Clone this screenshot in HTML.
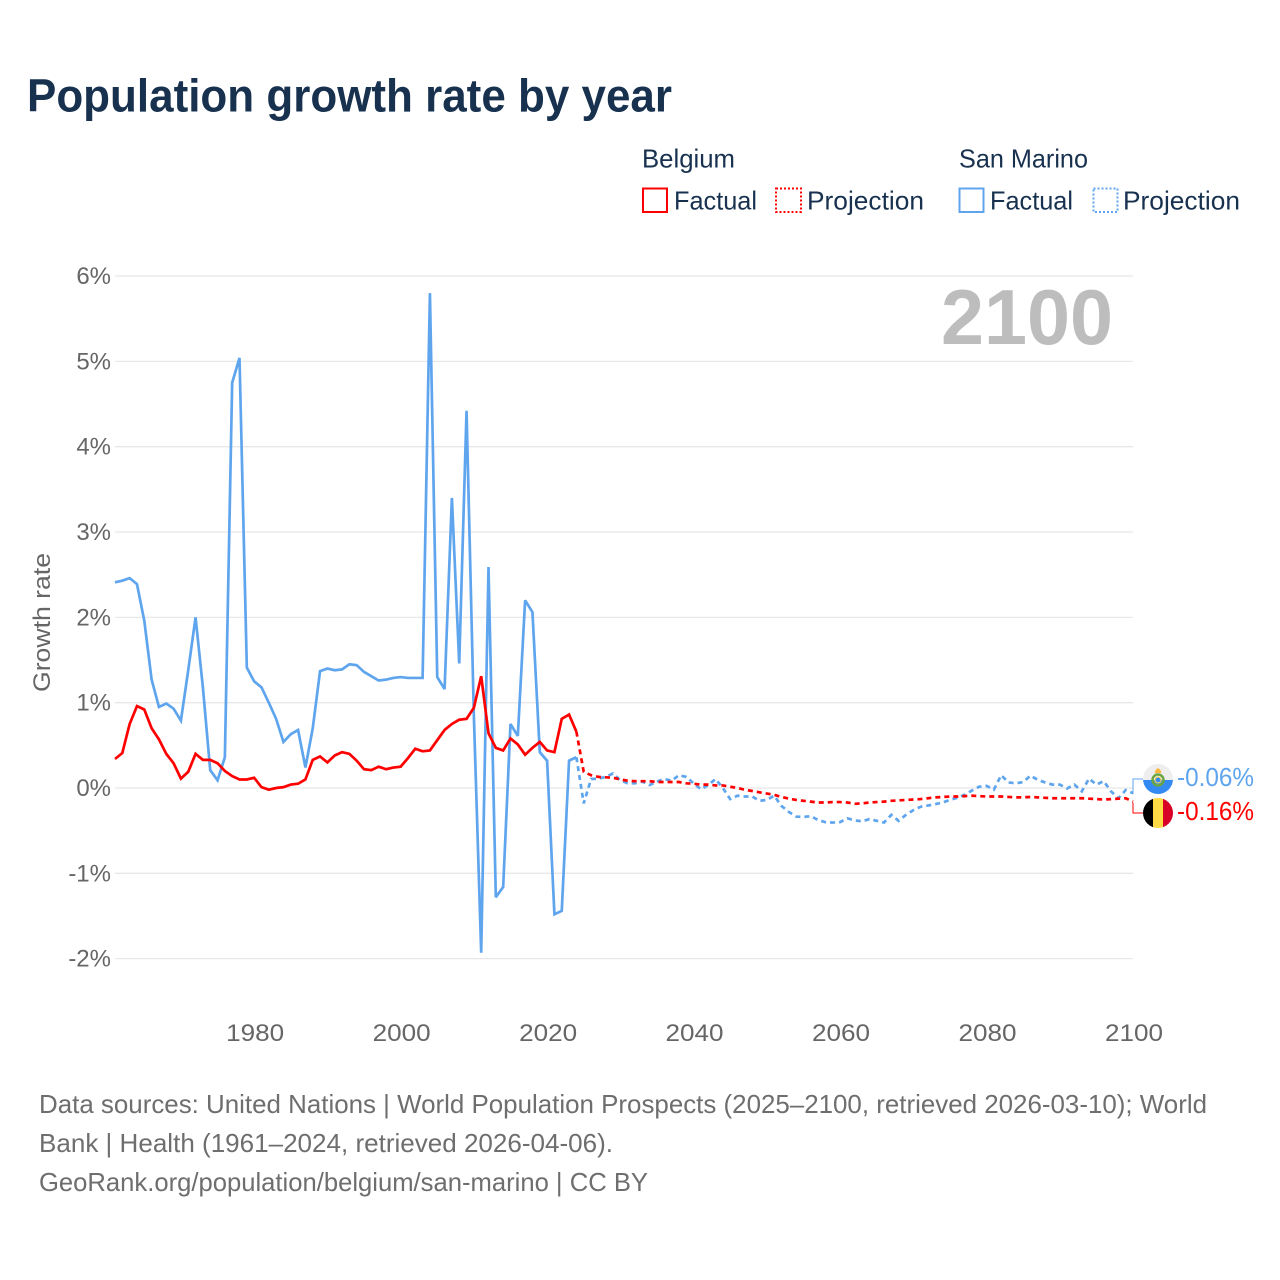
<!DOCTYPE html>
<html lang="en">
<head>
<meta charset="utf-8">
<title>Population growth rate by year</title>
<style>
html,body{margin:0;padding:0;background:#fff;}
svg{display:block;font-family:"Liberation Sans",sans-serif;}
</style>
</head>
<body>
<svg id="chart" xmlns="http://www.w3.org/2000/svg" width="1280" height="1280" viewBox="0 0 1280 1280">
  <defs>
    <clipPath id="flag-clip-sm"><circle cx="1158" cy="779" r="15"/></clipPath>
    <clipPath id="flag-clip-be"><circle cx="1158" cy="813" r="15"/></clipPath>
  </defs>
  <rect width="1280" height="1280" fill="#fff"/>
  <text x="27" y="111.5" font-size="46" font-weight="700" fill="#17314f" textLength="645" lengthAdjust="spacingAndGlyphs">Population growth rate by year</text>

  <g font-size="26" fill="#17314f">
    <text x="642" y="167.5" textLength="93" lengthAdjust="spacingAndGlyphs">Belgium</text>
    <text x="959" y="167.5" textLength="129" lengthAdjust="spacingAndGlyphs">San Marino</text>
    <rect x="643" y="188.5" width="24" height="23.5" fill="none" stroke="#ff0000" stroke-width="2"/>
    <text x="674" y="209.5" textLength="83" lengthAdjust="spacingAndGlyphs">Factual</text>
    <rect x="776" y="188.5" width="25" height="23.5" fill="none" stroke="#ff0000" stroke-width="2" stroke-dasharray="2 2"/>
    <text x="807" y="209.5" textLength="117" lengthAdjust="spacingAndGlyphs">Projection</text>
    <rect x="959.500" y="188.5" width="24" height="23.5" fill="none" stroke="#5fa5ee" stroke-width="2"/>
    <text x="990" y="209.5" textLength="83" lengthAdjust="spacingAndGlyphs">Factual</text>
    <rect x="1093.500" y="188.5" width="24" height="23.5" fill="none" stroke="#5fa5ee" stroke-width="2" stroke-dasharray="2 2"/>
    <text x="1123" y="209.5" textLength="117" lengthAdjust="spacingAndGlyphs">Projection</text>
  </g>

  <g id="grid"></g>
  <g id="yticks" font-size="24" fill="#666" text-anchor="end"></g>
  <g id="xticks" font-size="24" fill="#666" text-anchor="middle"></g>
  <text transform="translate(50,622.5) rotate(-90)" font-size="24" fill="#666" text-anchor="middle" textLength="139" lengthAdjust="spacingAndGlyphs">Growth rate</text>
  <text x="941" y="344" font-size="78" font-weight="700" fill="#bdbdbd" textLength="172" lengthAdjust="spacingAndGlyphs">2100</text>

  <g id="series"></g>
  <g id="endlabels"></g>

  <g clip-path="url(#flag-clip-sm)">
    <rect x="1143" y="764" width="30" height="16" fill="#eeeeee"/>
    <rect x="1143" y="780" width="30" height="14" fill="#338af3"/>
    <circle cx="1158" cy="780" r="5.500" fill="none" stroke="#6da544" stroke-width="2.500"/>
    <circle cx="1158" cy="780" r="3" fill="#338af3" stroke="#ffda44" stroke-width="1"/>
    <path d="M1154.500 773 L1161.500 773 L1160.500 770 L1158 768 L1155.500 770 Z" fill="#ffb63d"/>
  </g>
  <g clip-path="url(#flag-clip-be)">
    <rect x="1143" y="798" width="10" height="30" fill="#000"/>
    <rect x="1153" y="798" width="10" height="30" fill="#ffda44"/>
    <rect x="1163" y="798" width="10" height="30" fill="#d80027"/>
  </g>

  <g font-size="26" fill="#6e6e6e">
    <text x="39" y="1113" textLength="1168" lengthAdjust="spacingAndGlyphs">Data sources: United Nations | World Population Prospects (2025–2100, retrieved 2026-03-10); World</text>
    <text x="39" y="1152" textLength="574" lengthAdjust="spacingAndGlyphs">Bank | Health (1961–2024, retrieved 2026-04-06).</text>
    <text x="39" y="1191" textLength="609" lengthAdjust="spacingAndGlyphs">GeoRank.org/population/belgium/san-marino | CC BY</text>
  </g>
</svg>
<script>
const yTickValues = [6, 5, 4, 3, 2, 1, 0, -1, -2];
const yTickLabels = ["6%", "5%", "4%", "3%", "2%", "1%", "0%", "-1%", "-2%"];
const xTickYears = [1980, 2000, 2020, 2040, 2060, 2080, 2100];
const firstYear = 1961;
const lastFactualYear = 2024;

const belgiumFactual = [
  .34,.41,.75,.96,.92,.70,.57,.40,.29,.11,
  .19,.40,.33,.33,.29,.20,.14,.10,.10,.12,
  .01,-.02,0,.01,.04,.05,.10,.33,.37,.30,
  .38,.42,.40,.32,.22,.21,.25,.22,.24,.25,
  .35,.46,.43,.44,.56,.68,.75,.80,.81,.94,
  1.31,.64,.47,.44,.58,.51,.39,.47,.54,.44,
  .42,.81,.86,.66
];
const belgiumProjection = [
  .19,.15,.13,.125,.12,.10,.085,.08,.08,.08,
  .07,.07,.07,.07,.055,.05,.04,.04,.03,.03,
  .015,0,-.02,-.035,-.05,-.065,-.08,-.105,-.125,-.14,
  -.15,-.16,-.17,-.17,-.165,-.165,-.17,-.185,-.18,-.17,
  -.165,-.16,-.15,-.145,-.14,-.135,-.13,-.12,-.11,-.105,
  -.10,-.10,-.095,-.09,-.095,-.10,-.10,-.10,-.105,-.11,
  -.11,-.105,-.11,-.115,-.12,-.12,-.12,-.12,-.12,-.125,
  -.13,-.135,-.13,-.125,-.12,-.16
];
const sanMarinoFactual = [
  2.41,2.43,2.46,2.39,1.96,1.27,.95,.99,.93,.79,
  1.38,2.0,1.18,.21,.09,.36,4.75,5.04,1.41,1.25,
  1.18,1.0,.81,.54,.63,.68,.24,.70,1.37,1.40,
  1.38,1.39,1.45,1.44,1.36,1.31,1.26,1.27,1.29,1.30,
  1.29,1.29,1.29,5.80,1.30,1.16,3.40,1.46,4.42,.85,
  -1.93,2.59,-1.28,-1.16,.75,.61,2.20,2.06,.42,.32,
  -1.48,-1.44,.32,.36
];
const sanMarinoProjection = [
  -.18,.105,.11,.13,.17,.09,.055,.055,.075,.035,
  .075,.105,.085,.15,.13,.055,-.015,.035,.105,0,
  -.13,-.09,-.10,-.10,-.15,-.14,-.09,-.21,-.28,-.335,
  -.34,-.33,-.375,-.40,-.405,-.40,-.355,-.38,-.39,-.365,
  -.385,-.405,-.315,-.385,-.315,-.26,-.22,-.205,-.19,-.17,
  -.14,-.115,-.08,-.03,.015,.025,-.02,.15,.065,.055,
  .07,.145,.095,.065,.04,.04,-.005,.04,-.04,.11,
  .04,.08,-.04,-.12,-.025,-.06
];
const endValueLabels = ["-0.06%", "-0.16%"];

const NS = "http://www.w3.org/2000/svg";
function xScale(year) { return 115 + (year - 1961) * (1133 - 115) / (2100 - 1961); }
function yScale(value) { return 788 - value * 85.33; }
function makePoints(values, startYear) {
  return values.map(function (v, i) {
    return xScale(startYear + i).toFixed(2) + "," + yScale(v).toFixed(2);
  }).join(" ");
}

const gridGroup = document.getElementById("grid");
const yTickGroup = document.getElementById("yticks");
yTickValues.forEach(function (v, i) {
  const line = document.createElementNS(NS, "line");
  
  
  line.setAttribute("x1", 115);
  line.setAttribute("x2", 1133);
  line.setAttribute("y1", yScale(v));
  line.setAttribute("y2", yScale(v));
  line.setAttribute("stroke", "#e8e8e8");
  line.setAttribute("stroke-width", "1.3");
  gridGroup.appendChild(line);
  const label = document.createElementNS(NS, "text");
  
  
  label.setAttribute("x", 111);
  label.setAttribute("y", yScale(v) + 8);
  label.textContent = yTickLabels[i];
  yTickGroup.appendChild(label);
});

const xTickGroup = document.getElementById("xticks");
xTickYears.forEach(function (year) {
  const label = document.createElementNS(NS, "text");
  
  
  label.setAttribute("x", xScale(year) + 1);
  label.setAttribute("y", 1041);
  label.setAttribute("textLength", "58");
  label.setAttribute("lengthAdjust", "spacingAndGlyphs");
  label.textContent = String(year);
  xTickGroup.appendChild(label);
});

const seriesGroup = document.getElementById("series");
function drawLine(name, values, startYear, color, dash) {
  const line = document.createElementNS(NS, "polyline");
  
  
  line.setAttribute("points", makePoints(values, startYear));
  line.setAttribute("fill", "none");
  line.setAttribute("stroke", color);
  line.setAttribute("stroke-width", "2.7");
  line.setAttribute("stroke-linejoin", "miter");
  line.setAttribute("stroke-miterlimit", "3");
  if (dash) { line.setAttribute("stroke-dasharray", dash); }
  seriesGroup.appendChild(line);
}
const blue = "#5fa5ee";
const red = "#ff0000";
drawLine("san-marino-factual-line", sanMarinoFactual, firstYear, blue, null);
drawLine("belgium-factual-line", belgiumFactual, firstYear, red, null);
drawLine("san-marino-projection-line", [sanMarinoFactual[sanMarinoFactual.length - 1]].concat(sanMarinoProjection), lastFactualYear, blue, "5 4");
drawLine("belgium-projection-line", [belgiumFactual[belgiumFactual.length - 1]].concat(belgiumProjection), lastFactualYear, red, "5 4");

const endGroup = document.getElementById("endlabels");
function drawEnd(name, value, labelY, color, text) {
  const connector = document.createElementNS(NS, "polyline");
  
  
  const startY = yScale(value) + 1;
  connector.setAttribute("points", "1133," + startY + " 1133," + labelY + " 1143," + labelY);
  connector.setAttribute("fill", "none");
  connector.setAttribute("stroke", color);
  connector.setAttribute("stroke-width", "1");
  endGroup.appendChild(connector);
  const label = document.createElementNS(NS, "text");
  
  
  label.setAttribute("x", 1177);
  label.setAttribute("y", labelY + 7);
  label.setAttribute("font-size", "25.5");
  label.setAttribute("fill", color);
  label.setAttribute("textLength", "77");
  label.setAttribute("lengthAdjust", "spacingAndGlyphs");
  label.textContent = text;
  endGroup.appendChild(label);
}
drawEnd("san-marino-end", sanMarinoProjection[sanMarinoProjection.length - 1], 779, blue, endValueLabels[0]);
drawEnd("belgium-end", belgiumProjection[belgiumProjection.length - 1], 813, red, endValueLabels[1]);
</script>
</body>
</html>
